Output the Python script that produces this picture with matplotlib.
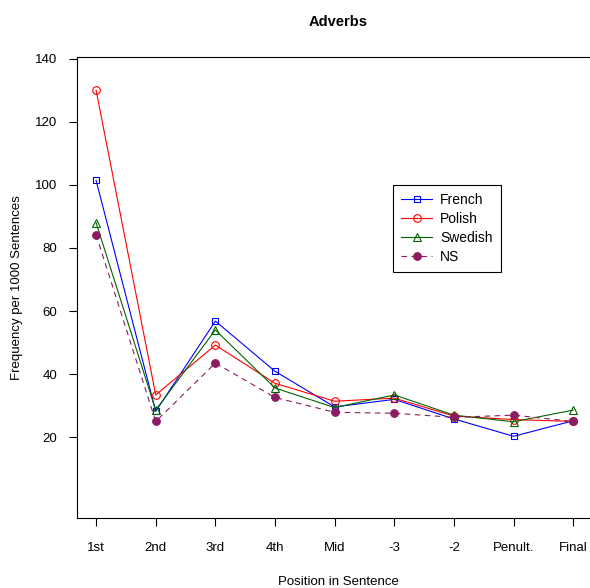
import matplotlib
matplotlib.use("Agg")
import matplotlib.pyplot as plt
import numpy as np

plt.rcParams['font.family'] = ['Liberation Sans', 'DejaVu Sans']

positions = ['1st', '2nd', '3rd', '4th', 'Mid', '-3', '-2', 'Penult.', 'Final']
french = [101.4, 28.2, 56.8, 40.9, 29.6, 32.0, 25.8, 20.3, 25.2]
polish = [130.0, 33.4, 49.2, 37.1, 31.4, 32.4, 26.7, 25.6, 25.0]
swedish = [88.0, 28.6, 54.0, 35.6, 29.4, 33.4, 27.0, 24.9, 28.6]
ns = [84.2, 25.0, 43.5, 32.6, 27.9, 27.6, 26.3, 27.0, 25.0]

fig = plt.figure(figsize=(5.9, 5.88), dpi=100)
ax = fig.add_axes([77/590, 1 - 518/588, 523/590, 461/588])

x = np.arange(len(positions))
ax.plot(x, french, color='blue', lw=0.8, marker='s', ms=5, mfc='none', mew=0.8, label='French')
ax.plot(x, polish, color='red', lw=0.8, marker='o', ms=5.5, mfc='none', mew=0.8, label='Polish')
ax.plot(x, swedish, color='#006400', lw=0.8, marker='^', ms=6, mfc='none', mew=0.8, label='Swedish')
ax.plot(x, ns, color='#8B1C62', lw=0.8, ls=(0, (5, 4)), marker='o', ms=5.5, mew=0.8, label='NS')

ax.set_xlim(-0.32, 8.45)
ax.set_ylim(-5.6, 140.5)
ax.set_xticks(x)
ax.set_xticklabels(positions)
ax.set_yticks(range(20, 141, 20))
ax.tick_params(labelsize=9.5, length=6, width=0.8, direction='out')
ax.tick_params(axis='x', pad=11)
ax.tick_params(axis='y', pad=8)
for s in ax.spines.values():
    s.set_linewidth(0.8)

ax.set_title('Adverbs', fontsize=10.5, fontweight='bold', pad=22)
ax.set_xlabel('Position in Sentence', fontsize=9.5, labelpad=16)
ax.set_ylabel('Frequency per 1000 Sentences', fontsize=9.5, labelpad=9)

leg = ax.legend(loc='upper left', bbox_to_anchor=(393/590, 1 - 185/588),
                bbox_transform=fig.transFigure, fontsize=10, fancybox=False,
                framealpha=1, edgecolor='black', handlelength=2.2,
                borderpad=0.6, labelspacing=0.35, handletextpad=0.6,
                borderaxespad=0)
leg.get_frame().set_linewidth(0.8)

fig.savefig('out.png', dpi=100)
